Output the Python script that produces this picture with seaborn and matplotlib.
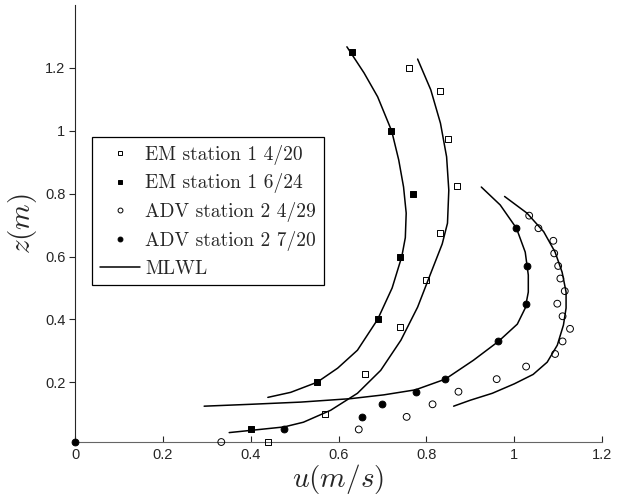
import numpy as np
import pandas as pd
import matplotlib
matplotlib.use("Agg")
import matplotlib.pyplot as plt
from matplotlib.lines import Line2D
import seaborn as sns

# measured points
em1_u = [0.76, 0.83, 0.85, 0.87, 0.83, 0.80, 0.74, 0.66, 0.57, 0.44]
em1_z = [1.2, 1.125, 0.975, 0.825, 0.675, 0.525, 0.375, 0.225, 0.1, 0.01]

em2_u = [0.63, 0.72, 0.77, 0.74, 0.69, 0.55, 0.40]
em2_z = [1.25, 1.0, 0.8, 0.6, 0.4, 0.2, 0.05]

adv1_u = [1.034, 1.055, 1.089, 1.091, 1.10, 1.105, 1.115, 1.098, 1.11, 1.127,
          1.11, 1.093, 1.027, 0.96, 0.873, 0.814, 0.755, 0.646, 0.333]
adv1_z = [0.73, 0.69, 0.65, 0.61, 0.57, 0.53, 0.49, 0.45, 0.41, 0.37,
          0.33, 0.29, 0.25, 0.21, 0.17, 0.13, 0.09, 0.05, 0.01]

adv2_u = [1.005, 1.03, 1.027, 0.964, 0.842, 0.776, 0.70, 0.653, 0.476, 0.0]
adv2_z = [0.69, 0.57, 0.45, 0.33, 0.21, 0.17, 0.13, 0.09, 0.05, 0.01]

# MLWL profiles
fit_em2_u = [0.619, 0.658, 0.689, 0.721, 0.737, 0.748, 0.754, 0.752, 0.744,
             0.722, 0.689, 0.643, 0.598, 0.551, 0.491, 0.439]
fit_em2_z = [1.267, 1.184, 1.108, 0.999, 0.907, 0.821, 0.738, 0.66, 0.60,
             0.50, 0.40, 0.302, 0.245, 0.20, 0.168, 0.152]

fit_em1_u = [0.78, 0.81, 0.832, 0.846, 0.851, 0.848, 0.836, 0.81, 0.78,
             0.742, 0.696, 0.643, 0.582, 0.52, 0.476, 0.40, 0.351]
fit_em1_z = [1.228, 1.13, 1.024, 0.917, 0.811, 0.706, 0.64, 0.547, 0.439,
             0.334, 0.238, 0.165, 0.111, 0.073, 0.058, 0.047, 0.04]

fit_adv2_u = [0.925, 0.968, 1.005, 1.025, 1.032, 1.032, 1.025, 1.007, 0.964,
              0.907, 0.843, 0.775, 0.703, 0.628, 0.514, 0.40, 0.294]
fit_adv2_z = [0.821, 0.764, 0.69, 0.614, 0.541, 0.487, 0.436, 0.385, 0.33,
              0.27, 0.21, 0.176, 0.16, 0.148, 0.137, 0.13, 0.124]

fit_adv1_u = [0.978, 1.029, 1.067, 1.093, 1.109, 1.118, 1.118, 1.112, 1.098,
              1.075, 1.043, 1.0, 0.95, 0.9, 0.862]
fit_adv1_z = [0.791, 0.738, 0.679, 0.614, 0.55, 0.487, 0.436, 0.382, 0.318,
              0.264, 0.225, 0.195, 0.165, 0.143, 0.124]

labels = ['EM station 1 4/20', 'EM station 1 6/24',
          'ADV station 2 4/29', 'ADV station 2 7/20', 'MLWL']

sns.set_style("ticks")
plt.rcParams['mathtext.fontset'] = 'cm'
plt.rcParams['font.family'] = ['Liberation Sans', 'DejaVu Sans']

fig = plt.figure(figsize=(6.22, 4.98), dpi=100)
ax = fig.add_axes([0.1206, 0.1124, 0.8474, 0.8776])

for fu, fz in [(fit_em2_u, fit_em2_z), (fit_em1_u, fit_em1_z),
               (fit_adv2_u, fit_adv2_z), (fit_adv1_u, fit_adv1_z)]:
    sns.lineplot(x=fu, y=fz, sort=False, estimator=None, color='black',
                 linewidth=1.1, ax=ax)

sns.scatterplot(x=em1_u, y=em1_z, marker='s', s=18, color='white',
                edgecolor='black', linewidth=0.7, ax=ax, clip_on=False, zorder=3)
ax.collections[-1].set_facecolor('none')
sns.scatterplot(x=em2_u, y=em2_z, marker='s', s=18, color='black',
                edgecolor='black', linewidth=0.7, ax=ax, clip_on=False, zorder=3)
sns.scatterplot(x=adv1_u, y=adv1_z, marker='o', s=24, color='white',
                edgecolor='black', linewidth=0.7, ax=ax, clip_on=False, zorder=3)
ax.collections[-1].set_facecolor('none')
sns.scatterplot(x=adv2_u, y=adv2_z, marker='o', s=24, color='black',
                edgecolor='black', linewidth=0.7, ax=ax, clip_on=False, zorder=3)

ax.set_xlim(0, 1.2)
ax.set_ylim(0.01, 1.4)
ax.set_xticks([0, 0.2, 0.4, 0.6, 0.8, 1, 1.2])
ax.set_xticklabels(['0', '0.2', '0.4', '0.6', '0.8', '1', '1.2'])
ax.set_yticks([0.2, 0.4, 0.6, 0.8, 1, 1.2])
ax.set_yticklabels(['0.2', '0.4', '0.6', '0.8', '1', '1.2'])
ax.tick_params(axis='x', direction='in', length=4, width=0.8, labelsize=10.5, pad=4)
ax.tick_params(axis='y', direction='out', length=4, width=0.8, labelsize=10.5, pad=3)
sns.despine(ax=ax)
ax.spines['left'].set_linewidth(0.8)
ax.spines['bottom'].set_linewidth(0.8)
ax.spines['bottom'].set_color('#666666')

ax.set_xlabel(r'$u(m/s)$', fontsize=21, labelpad=0)
ax.set_ylabel(r'$z(m)$', fontsize=21, labelpad=4)

handles = [
    Line2D([], [], marker='s', ls='none', mfc='none', mec='black', ms=3.2, mew=0.7),
    Line2D([], [], marker='s', ls='none', mfc='black', mec='black', ms=3.2, mew=0.7),
    Line2D([], [], marker='o', ls='none', mfc='none', mec='black', ms=3.5, mew=0.7),
    Line2D([], [], marker='o', ls='none', mfc='black', mec='black', ms=3.5, mew=0.7),
    Line2D([], [], color='black', lw=1.1),
]
leg = ax.legend(handles, labels, loc='upper left', bbox_to_anchor=(0.032, 0.698),
                borderaxespad=0, frameon=True, fancybox=False, framealpha=1,
                edgecolor='black', prop={'family': 'cmr10', 'size': 14},
                handlelength=2.1, handletextpad=0.25, labelspacing=0.45,
                borderpad=0.4)
leg.get_frame().set_linewidth(0.9)

plt.savefig("out.png", dpi=100)
